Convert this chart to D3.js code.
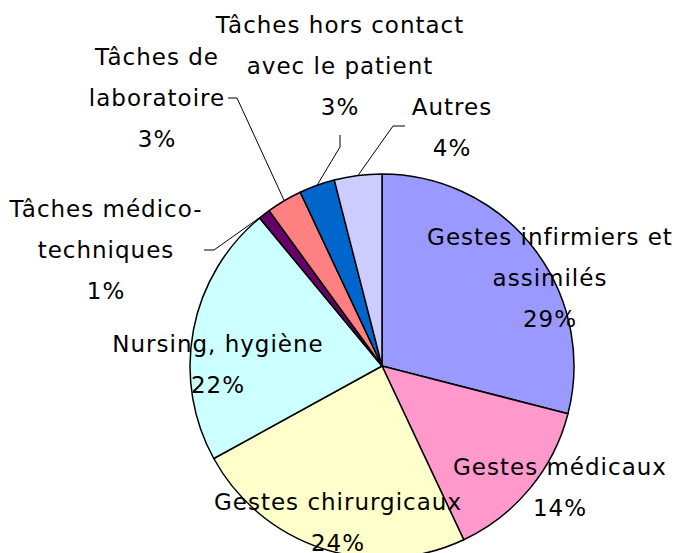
<!DOCTYPE html>
<html lang="fr">
  <head>
    <meta charset="utf-8">
    <title>Répartition des tâches</title>
    <style>
      body { margin: 0; background: #fff; }
      svg text { font-family: "Comic Sans MS", "DejaVu Sans", sans-serif; font-size: 23px; letter-spacing: 1px; fill: #000; }
    </style>
  </head>
  <body>
    <div id="viz"></div>
    <script src="https://cdn.jsdelivr.net/npm/d3@7/dist/d3.min.js"></script>
    <script>
      const categories = [
        'Gestes infirmiers et assimilés',
        'Gestes médicaux',
        'Gestes chirurgicaux',
        'Nursing, hygiène',
        'Tâches médico-techniques',
        'Tâches de laboratoire',
        'Tâches hors contact avec le patient',
        'Autres'
      ]
      const values = [29, 14, 24, 22, 1, 3, 3, 4]
      const colors = ['#9999FF', '#FF99CC', '#FFFFCC', '#CCFFFF', '#660066', '#FF8080', '#0066CC', '#CCCCFF']

      // how each label is broken into lines, and where it sits (first baseline)
      const labelLines = [
        ['Gestes infirmiers et', 'assimilés'],
        ['Gestes médicaux'],
        ['Gestes chirurgicaux'],
        ['Nursing, hygiène'],
        ['Tâches médico-', 'techniques'],
        ['Tâches de', 'laboratoire'],
        ['Tâches hors contact', 'avec le patient'],
        ['Autres']
      ]
      const labelPos = [[550, 245], [560, 475], [338, 510], [218, 352], [106, 217], [157, 65], [340, 33], [452, 115]]
      // leader lines: [label end point, elbow]
      const leaders = {
        4: [[204, 250], [214, 250]],
        5: [[228, 98], [237, 98]],
        6: [[340, 135], [340, 147]],
        7: [[405, 126], [393, 126]]
      }

      const width = 677
      const height = 553
      const cx = 382
      const cy = 366
      const r = 192
      const lineH = 41

      const svg = d3.select('#viz').append('svg').attr('width', width).attr('height', height)

      const pie = d3.pie().sort(null).value(d => d)
      const arcs = pie(values)
      const arc = d3.arc().innerRadius(0).outerRadius(r)
      const g = svg.append('g').attr('transform', `translate(${cx},${cy})`)

      g.selectAll('path.slice')
        .data(arcs)
        .enter()
          .append('path')
            .attr('class', 'slice')
            .attr('d', arc)
            .attr('fill', (d, i) => colors[i])
            .attr('stroke', '#000')
            .attr('stroke-width', 1.5)
            .attr('stroke-linejoin', 'round')

      // leader lines to the outer edge of the small slices
      Object.keys(leaders).forEach(k => {
        const a = arcs[k]
        const mid = (a.startAngle + a.endAngle) / 2
        const edge = [cx + Math.sin(mid) * r, cy - Math.cos(mid) * r]
        const pts = [leaders[k][0], leaders[k][1], edge]
        svg.append('path')
          .attr('d', d3.line()(pts))
          .attr('fill', 'none')
          .attr('stroke', '#000')
          .attr('stroke-width', 1)
      })

      const fmt = v => v + '%'
      categories.forEach((c, i) => {
        const lines = labelLines[i].concat([fmt(values[i])])
        const t = svg.append('text')
          .attr('text-anchor', 'middle')
          .attr('x', labelPos[i][0])
          .attr('y', labelPos[i][1])
        lines.forEach((l, j) => {
          t.append('tspan')
            .attr('x', labelPos[i][0])
            .attr('dy', j === 0 ? 0 : lineH)
            .text(l)
        })
      })
    </script>
  </body>
</html>
